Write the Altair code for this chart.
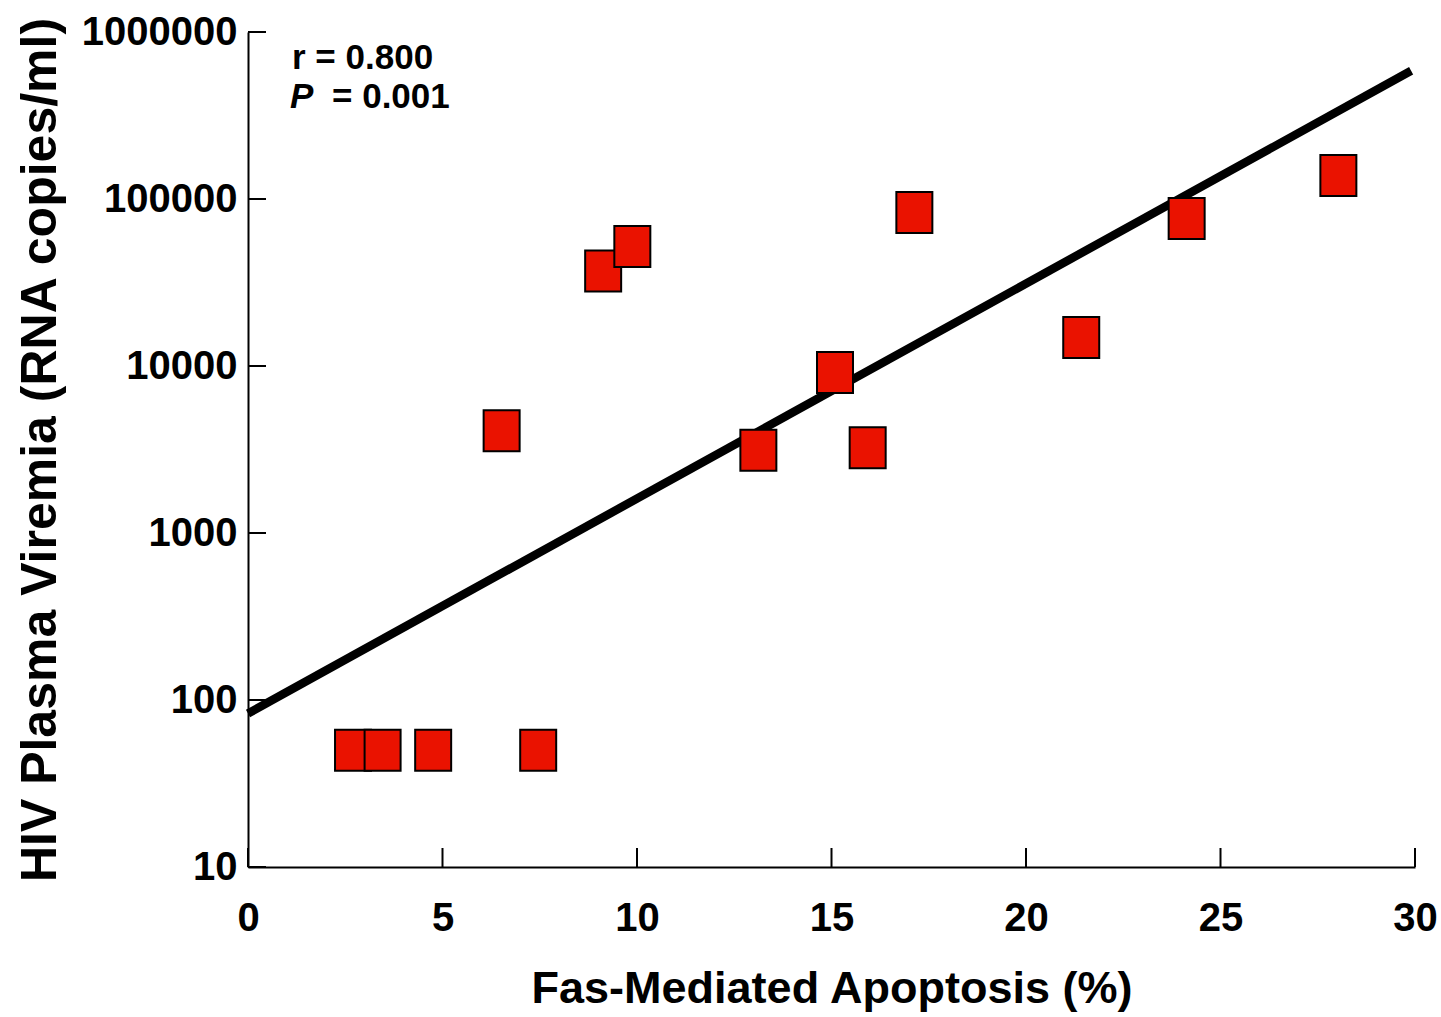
import altair as alt
import pandas as pd

# Data
apoptosis = [2.70, 3.46, 4.76, 7.46, 6.52, 9.13, 9.88, 13.12, 15.09, 15.93, 17.13, 21.42, 24.13, 28.03]
viremia = [50, 50, 50, 50, 4100, 37000, 52000, 3130, 9140, 3240, 83100, 14800, 76500, 138500]

fit_x = [0, 29.9]
fit_y = [83, 586000]

x_ticks = [0, 5, 10, 15, 20, 25, 30]
y_ticks = [10, 100, 1000, 10000, 100000, 1000000]

r_text = "r = 0.800"
p_label = "P"
p_text = "= 0.001"

FONT = "Liberation Sans"
RED = "#EA1200"
W, H = 1167, 835

pts = pd.DataFrame({"x": apoptosis, "y": viremia})
fit = pd.DataFrame({"x": fit_x, "y": fit_y})
xt = pd.DataFrame({"x": x_ticks})
yt = pd.DataFrame({"y": y_ticks})

xscale = alt.Scale(domain=[0, 30], nice=False, zero=False)
yscale = alt.Scale(type="log", domain=[10, 1000000], nice=False)

xaxis = alt.Axis(
    values=x_ticks, format="d", ticks=False, grid=False,
    domainColor="black", domainWidth=2,
    labelFont=FONT, labelFontSize=40, labelFontWeight="bold", labelColor="black",
    labelPadding=31, labelFlush=False,
    title="Fas-Mediated Apoptosis (%)", titleFont=FONT, titleFontSize=45,
    titleFontWeight="bold", titleColor="black", titlePadding=28,
)
yaxis = alt.Axis(
    values=y_ticks, format="d", ticks=False, grid=False,
    domainColor="black", domainWidth=2,
    labelFont=FONT, labelFontSize=40, labelFontWeight="bold", labelColor="black",
    labelPadding=11, labelFlush=False,
    title="HIV Plasma Viremia (RNA copies/ml)", titleFont=FONT, titleFontSize=50,
    titleFontWeight="bold", titleColor="black", titlePadding=16,
)

def X(field):
    return alt.X(f"{field}:Q", scale=xscale, axis=xaxis)

def Y(field):
    return alt.Y(f"{field}:Q", scale=yscale, axis=yaxis)

line = alt.Chart(fit).mark_line(color="black", strokeWidth=8.5, strokeCap="butt").encode(
    x=X("x"), y=Y("y")
)

square_path = "M-0.878,-1L0.878,-1L0.878,1L-0.878,1Z"
points = alt.Chart(pts).mark_point(
    shape=square_path, filled=True, fill=RED, stroke="black", strokeWidth=2,
    size=1681, opacity=1, fillOpacity=1,
).encode(x=X("x"), y=Y("y"))

xtick_rules = alt.Chart(xt).mark_rule(color="black", strokeWidth=2).encode(
    x=X("x"), y=alt.value(H), y2=alt.value(H - 19)
)
ytick_rules = alt.Chart(yt).mark_rule(color="black", strokeWidth=2).encode(
    y=Y("y"), x=alt.value(0), x2=alt.value(18)
)

ann_r = alt.Chart(pd.DataFrame({"t": [r_text]})).mark_text(
    font=FONT, fontSize=35, fontWeight="bold", color="black", align="left", baseline="alphabetic"
).encode(text="t:N", x=alt.value(44), y=alt.value(37))
ann_p = alt.Chart(pd.DataFrame({"t": [p_label]})).mark_text(
    font=FONT, fontSize=35, fontWeight="bold", fontStyle="italic", color="black",
    align="left", baseline="alphabetic"
).encode(text="t:N", x=alt.value(42), y=alt.value(76))
ann_p2 = alt.Chart(pd.DataFrame({"t": [p_text]})).mark_text(
    font=FONT, fontSize=35, fontWeight="bold", color="black", align="left", baseline="alphabetic"
).encode(text="t:N", x=alt.value(84), y=alt.value(76))

chart = alt.layer(
    xtick_rules, ytick_rules, line, points, ann_r, ann_p, ann_p2
).properties(
    width=W, height=H,
    background="white",
    autosize=alt.AutoSizeParams(type="none"),
    padding={"left": 248, "top": 32, "right": 26, "bottom": 150},
).configure_view(strokeWidth=0, stroke="transparent")

chart.save("out.html", embed_options={"renderer": "svg", "actions": False})
